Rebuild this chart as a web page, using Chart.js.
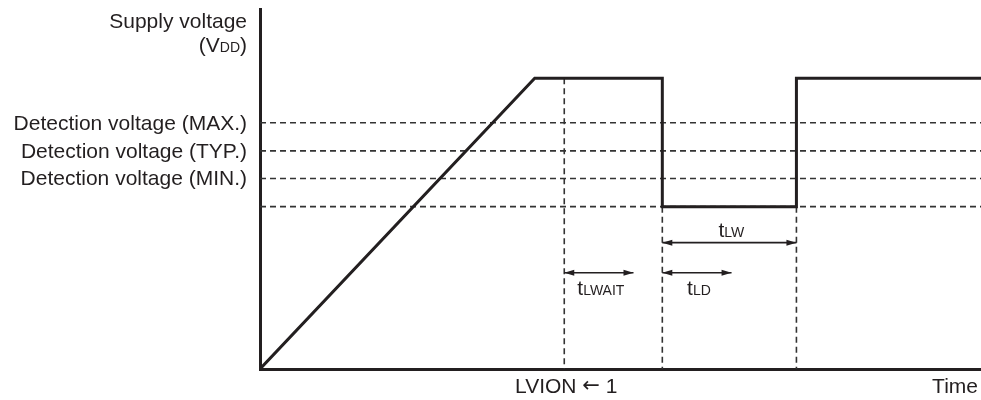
<!DOCTYPE html>
<html>
<head>
<meta charset="utf-8">
<script src="https://cdn.jsdelivr.net/npm/chart.js@4.4.0/dist/chart.umd.min.js"></script>
<style>
html, body { margin: 0; padding: 0; background: #fff; }
#wrap { width: 981px; height: 400px; }
</style>
</head>
<body>
<div id="wrap"><canvas id="chart"></canvas></div>
<script>
// supply voltage waveform, both axes run 0..100 (arbitrary units)
var vddTime  = [0, 38.1, 55.8, 55.8, 74.4, 74.4, 100];
var vddLevel = [0, 80.75, 80.75, 45.1, 45.1, 80.75, 80.75];

// detection voltage levels (last one is the unlabelled low level)
var detectLevels = [68.4, 60.6, 52.9, 45.1];
var detectLabels = ["Detection voltage (MAX.)", "Detection voltage (TYP.)", "Detection voltage (MIN.)", ""];

// vertical dashed markers: time and the level they drop from
var markerTimes = [42.2, 55.8, 74.4];
var markerTops  = [80.75, 45.1, 45.1];

// timing arrows t_LW, t_LWAIT, t_LD
var arrowNames = ["LW", "LWAIT", "LD"];
var arrowFrom  = [55.8, 42.2, 55.8];
var arrowTo    = [74.4, 51.8, 65.4];
var arrowLevel = [35.1, 26.75, 26.75];

var timeTicks  = [42.2];
var timeLabels = [["LVION ", "\u2190", " 1"]];

var ink = "#231f20";
var dashInk = "#333333";
var family = "'Liberation Sans', Arial, Helvetica, sans-serif";
var arrowFamily = "'DejaVu Sans', sans-serif";

function pts(xs, ys) {
    return xs.map(function (x, i) { return { x: x, y: ys[i] }; });
}

// runs of text on one baseline: [text, size, family?, dy?]
function runText(ctx, x, y, parts, align) {
    var w = 0;
    parts.forEach(function (p) {
        ctx.font = p[1] + "px " + (p[2] || family);
        w += ctx.measureText(p[0]).width;
    });
    var cx = align === "right" ? x - w : align === "center" ? x - w / 2 : x;
    parts.forEach(function (p) {
        ctx.font = p[1] + "px " + (p[2] || family);
        ctx.fillText(p[0], cx, y + (p[3] || 0));
        cx += ctx.measureText(p[0]).width;
    });
}

function arrowHead(ctx, tip, from) {
    var dir = tip.x > from.x ? 1 : -1;
    ctx.beginPath();
    ctx.moveTo(tip.x, tip.y);
    ctx.lineTo(tip.x - dir * 10, tip.y - 3);
    ctx.lineTo(tip.x - dir * 10, tip.y + 3);
    ctx.closePath();
    ctx.fill();
}

var labelsPlugin = {
    id: "labels",
    afterDatasetsDraw: function (chart) {
        var ctx = chart.ctx;
        var xs = chart.scales.x, ys = chart.scales.y;
        ctx.save();
        ctx.fillStyle = ink;
        ctx.textAlign = "left";
        ctx.textBaseline = "alphabetic";

        chart.data.datasets.forEach(function (ds, i) {
            if (!ds.arrow) return;
            var p = chart.getDatasetMeta(i).data;
            arrowHead(ctx, p[0], p[1]);
            arrowHead(ctx, p[1], p[0]);
        });

        arrowNames.forEach(function (name, i) {
            var cx = xs.getPixelForValue((arrowFrom[i] + arrowTo[i]) / 2) + 2;
            var cy = ys.getPixelForValue(arrowLevel[i]) + (i === 0 ? -6 : 22);
            runText(ctx, cx, cy, [["t", 21], [name, 14]], "center");
        });

        // x-axis texts
        timeTicks.forEach(function (t, i) {
            var l = timeLabels[i];
            runText(ctx, xs.getPixelForValue(t) + 2, xs.top + 24,
                [[l[0], 21], [l[1], 21, arrowFamily, -1], [l[2], 21]], "center");
        });
        runText(ctx, chart.width - 3, xs.top + 24, [["Time", 21]], "right");

        // y-axis title
        var right = ys.right - 13;
        runText(ctx, right, 28, [["Supply voltage", 21]], "right");
        runText(ctx, right, 52, [["(V", 21], ["DD", 14], [")", 21]], "right");
        ctx.restore();
    }
};

var datasets = [{
    data: pts(vddTime, vddLevel),
    borderColor: ink,
    borderWidth: 3,
    borderJoinStyle: "miter"
}];
arrowFrom.forEach(function (t, i) {
    datasets.push({
        arrow: true,
        data: pts([t, arrowTo[i]], [arrowLevel[i], arrowLevel[i]]),
        borderColor: ink,
        borderWidth: 1.6
    });
});
markerTimes.forEach(function (t, i) {
    datasets.push({
        data: pts([t, t], [markerTops[i], 0]),
        borderColor: dashInk,
        borderWidth: 1.6,
        borderDash: [6, 4]
    });
});
detectLevels.forEach(function (v) {
    datasets.push({
        data: pts([0, 100], [v, v]),
        borderColor: dashInk,
        borderWidth: 1.6,
        borderDash: [6, 4]
    });
});

new Chart(document.getElementById("chart"), {
    type: "line",
    data: { datasets: datasets },
    options: {
        responsive: true,
        maintainAspectRatio: false,
        animation: false,
        layout: { padding: { top: 9, right: 0, left: 0, bottom: 0 } },
        elements: {
            point: { radius: 0 },
            line: { tension: 0, fill: false }
        },
        plugins: {
            legend: { display: false },
            tooltip: { enabled: false }
        },
        scales: {
            x: {
                type: "linear",
                min: 0,
                max: 100,
                afterBuildTicks: function (s) { s.ticks = timeTicks.map(function (v) { return { value: v }; }); },
                afterFit: function (s) { s.height = 31; s.paddingLeft = 0; s.paddingRight = 0; },
                grid: { display: false, drawTicks: false },
                border: { color: ink, width: 3 },
                ticks: { display: false }
            },
            y: {
                type: "linear",
                min: 0,
                max: 100,
                afterBuildTicks: function (s) { s.ticks = detectLevels.map(function (v) { return { value: v }; }); },
                afterFit: function (s) { s.width = 260; s.paddingTop = 0; s.paddingBottom = 0; },
                grid: { display: false, drawTicks: false },
                border: { color: ink, width: 3 },
                ticks: {
                    padding: 13,
                    labelOffset: 1,
                    autoSkip: false,
                    color: ink,
                    font: { family: family, size: 21 },
                    callback: function (v, i) { return detectLabels[i]; }
                }
            }
        }
    },
    plugins: [labelsPlugin]
});
</script>
</body>
</html>
